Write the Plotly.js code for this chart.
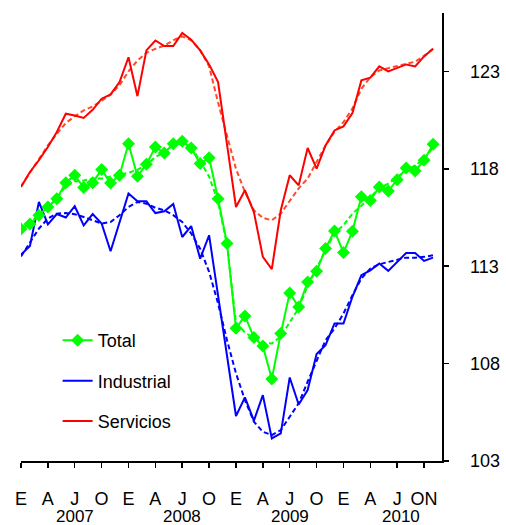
<!DOCTYPE html>
<html>
<head>
<meta charset="utf-8">
<script src="https://cdn.plot.ly/plotly-3.0.1.min.js"></script>
<style>html,body{margin:0;padding:0;background:#fff;}#chart{width:506px;height:525px;}</style>
</head>
<body>
<div id="chart"></div>
<script>
// month index 0 = Jan 2007 ... 46 = Nov 2010
const months = Array.from({length: 47}, (_, i) => i);

const total = [114.91,115.17,115.62,116.04,116.47,117.29,117.67,117.04,117.29,117.96,117.27,117.67,
  119.29,117.62,118.23,119.12,118.81,119.29,119.41,119.07,118.27,118.57,116.47,114.16,
  109.81,110.45,109.34,108.90,107.21,109.55,111.63,110.91,112.19,112.74,113.91,114.81,
  113.70,114.79,116.57,116.38,117.07,116.86,117.44,118.04,117.89,118.44,119.26];
const totalTrend = [114.9,115.25,115.6,116.0,116.5,117.1,117.35,117.4,117.5,117.5,117.6,117.67,
  117.8,117.95,118.2,118.6,118.86,119.2,119.4,119.1,118.4,117.6,116.3,114.1,
  110.1,109.6,109.3,109.07,109.03,109.4,110.1,110.85,112.0,112.9,113.8,114.7,
  115.1,115.7,116.1,116.55,117.0,117.24,117.58,117.92,118.18,118.5,119.1];
const industrial = [113.6,114.04,116.3,115.15,115.68,115.5,116.08,115.1,115.68,115.19,113.77,115.3,
  116.73,116.33,116.33,115.73,115.82,116.2,114.5,115.06,113.39,114.59,111.46,108.44,
  105.31,106.27,105.07,106.38,104.16,104.42,107.29,105.9,106.64,108.49,108.95,110.06,
  110.06,111.43,112.54,112.79,113.14,112.76,113.22,113.68,113.68,113.27,113.44];
const industrialTrend = [113.5,114.25,114.93,115.45,115.7,115.73,115.67,115.53,115.36,115.19,115.27,115.62,
  116.04,116.3,116.21,116.0,115.87,115.62,115.27,114.68,113.9,112.71,111.09,109.2,
  107.5,106.13,105.02,104.5,104.33,104.59,105.27,105.96,107.07,108.18,109.2,109.8,
  110.57,111.51,112.37,112.88,113.1,113.22,113.34,113.44,113.44,113.48,113.56];
const servicios = [117.07,117.84,118.44,119.12,119.89,120.83,120.74,120.61,121.03,121.6,121.82,122.45,
  123.73,121.73,124.08,124.59,124.3,124.3,124.98,124.63,124.08,123.36,122.45,119.3,
  116.04,116.9,115.78,113.48,112.85,115.87,117.67,117.15,119.07,118.01,119.2,119.97,
  120.18,120.86,122.54,122.68,123.26,123.0,123.17,123.36,123.26,123.77,124.16];
const serviciosTrend = [117.1,117.8,118.5,119.2,119.8,120.35,120.7,121.0,121.2,121.5,121.8,122.3,
  123.0,123.56,123.96,124.16,124.33,124.6,124.8,124.6,124.1,123.26,121.4,119.7,
  118.0,116.81,115.87,115.48,115.36,115.7,116.38,117.0,117.5,118.35,119.2,119.9,
  120.4,121.09,122.11,122.71,123.05,123.17,123.27,123.39,123.5,123.8,124.16];

const monthTickVals = [0,3,6,9,12,15,18,21,24,27,30,33,36,39,42,45];
const monthTickText = ['E','A','J','O','E','A','J','O','E','A','J','O','E','A','J','ON'];
const years = ['2007','2008','2009','2010'];
const yearPos = [6, 18, 30, 42.4];
const yTicks = [103,108,113,118,123];

const FONT = 'Liberation Sans, Arial, sans-serif';
const dash = '5px,3px';

const traces = [
  {x: months, y: serviciosTrend, mode: 'lines', line: {color: '#ff4a2a', width: 2, dash: dash}, showlegend: false, hoverinfo: 'skip'},
  {x: months, y: industrialTrend, mode: 'lines', line: {color: '#0000ff', width: 2, dash: dash}, showlegend: false, hoverinfo: 'skip'},
  {x: months, y: totalTrend, mode: 'lines', line: {color: '#00ff00', width: 2, dash: dash}, showlegend: false, hoverinfo: 'skip'},
  {x: months, y: servicios, name: 'Servicios', mode: 'lines', line: {color: '#ff0000', width: 2}, legendgroup: 'c', legendrank: 3},
  {x: months, y: industrial, name: 'Industrial', mode: 'lines', line: {color: '#0000ff', width: 2}, legendgroup: 'b', legendrank: 2},
  {x: months, y: total, name: 'Total', mode: 'lines+markers', line: {color: '#00ff00', width: 2},
   marker: {symbol: 'diamond', size: 10, color: '#00ff00'}, legendgroup: 'a', legendrank: 1}
];

const annotations = years.map((t, i) => ({
  x: yearPos[i], y: 0, xref: 'x', yref: 'paper', yshift: -55, text: t, showarrow: false,
  font: {family: FONT, size: 17, color: '#000'}, xanchor: 'center', yanchor: 'middle'
}));

const layout = {
  width: 506, height: 525,
  margin: {l: 20.7, r: 64.3, t: 12.7, b: 64},
  paper_bgcolor: '#fff', plot_bgcolor: '#fff',
  font: {family: FONT, size: 18, color: '#000'},
  showlegend: true,
  legend: {x: 0.087, y: 0.31, xanchor: 'left', yanchor: 'top', bgcolor: 'rgba(0,0,0,0)',
    font: {family: FONT, size: 18, color: '#000'}, traceorder: 'grouped', tracegroupgap: 14},
  xaxis: {range: [0, 47], tickmode: 'array', tickvals: monthTickVals, ticktext: monthTickText,
    showline: true, linecolor: '#000', linewidth: 1.5, ticks: 'outside', ticklen: 5, tickwidth: 1.5, tickcolor: '#000',
    showgrid: false, zeroline: false, ticklabelstandoff: 16, fixedrange: true},
  yaxis: {range: [103, 126], side: 'right', tickmode: 'array', tickvals: yTicks, ticktext: yTicks.map(String),
    showline: true, linecolor: '#000', linewidth: 1.5, ticks: 'outside', ticklen: 5, tickwidth: 1.5, tickcolor: '#000',
    showgrid: false, zeroline: false, ticklabelstandoff: 18, fixedrange: true},
  annotations: annotations
};

Plotly.newPlot('chart', traces, layout, {displayModeBar: false, staticPlot: true});
</script>
</body>
</html>
